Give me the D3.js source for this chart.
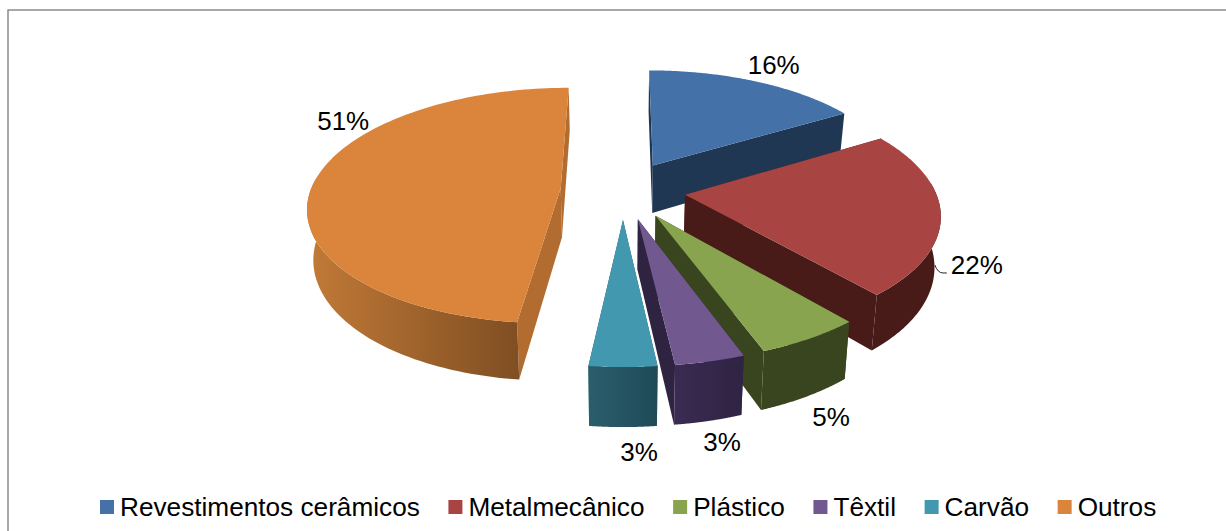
<!DOCTYPE html>
<html>
<head>
<meta charset="utf-8">
<script src="https://d3js.org/d3.v7.min.js"></script>
<style>
    html, body { margin: 0; padding: 0; background: #fff; overflow: hidden; }
    text { font-family: "Liberation Sans", Arial, sans-serif; fill: #000; }
</style>
</head>
<body>
<div id="container"></div>
<script>
// chart data
const categories = ['Revestimentos cerâmicos', 'Metalmecânico', 'Plástico', 'Têxtil', 'Carvão', 'Outros'];
const values = [16, 22, 5, 3, 3, 51];

// slice colours: top face, side face, outer wall left and right
const topColors = ['#4472a8', '#a84543', '#89a44e', '#71588f', '#4198af', '#da843c'];
const cutColors = ['#203753', '#481b19', '#38451f', '#2e2340', '#27525f', '#b26c30'];
const wallLeft = ['#203753', '#481b19', '#38451f', '#3a2b52', '#2a5e6c', '#c27a37'];
const wallRight = ['#203753', '#481b19', '#38451f', '#2f2443', '#1f4a58', '#7f4e22'];

// angle (degrees) each slice edge appears at after the 3d view distorts the pie
const drawnEdges = [0, 59, 139.5, 160, 173.5, 186.5, 360];
// offset of each percent label from the slice's outer midpoint
const labelOffsets = [[18, -16], [36, 51], [21, 79], [12, 81], [16, 85], [29, -61]];
// order slices are painted in, back to front
const paintOrder = [0, 5, 1, 2, 3, 4];

// svg dimensions
const w = 1226;
const h = 531;

// 3d view settings
const vx = 623;         // centre of pie on screen
const radius = 250;     // pie radius in px at centre depth
const horizon = -600;   // y of horizon
const persp = 790;      // distance horizon to centre
const fall = 0.1465;    // how fast things shrink going back
const depth = 49;       // pie thickness
const explode = 0.25;   // slice pull out, in radii
const bottomShrink = 0.98;

const svg = d3.select('#container')
                .append('svg')
                .attr('width', w)
                .attr('height', h)
                .style('display', 'block');

// pie layout, then map to the drawn angles
const pie = d3.pie().sort(null).value(d => d);
const arcs = pie(values);
const edges = [0].concat(arcs.map(d => d.endAngle));
const warp = d3.scaleLinear()
                .domain(edges)
                .range(drawnEdges.map(d => d * Math.PI / 180));

// project a point on the pie (x right, z away from viewer) to the screen
const project = (x, z, low) => {
    const s = 1 / (1 + fall * z);
    const sx = vx + radius * x * s * (low ? bottomShrink : 1);
    const sy = horizon + persp * s + (low ? depth * s : 0);
    return [sx, sy];
};

const line = d3.line();
const slices = arcs.map((d, i) => {
    const a0 = warp(d.startAngle);
    const a1 = warp(d.endAngle);
    const mid = (a0 + a1) / 2;
    const ox = explode * Math.sin(mid);
    const oz = explode * Math.cos(mid);
    const rim = (low, keep) => d3.range(0, 121)
        .map(k => a0 + (a1 - a0) * k / 120)
        .filter(keep)
        .map(a => project(ox + Math.sin(a), oz + Math.cos(a), low));
    const all = () => true;
    const front = a => Math.cos(a) < 0.1;
    return { i, mid, ox, oz,
             apexTop: project(ox, oz, false), apexLow: project(ox, oz, true),
             rimTop: rim(false, all), rimLow: rim(true, all),
             frontTop: rim(false, front), frontLow: rim(true, front) };
});

// gradients for outer walls
const defs = svg.append('defs');
categories.forEach((c, i) => {
    const g = defs.append('linearGradient').attr('id', `wall${i}`);
    g.append('stop').attr('offset', '0%').attr('stop-color', wallLeft[i]);
    g.append('stop').attr('offset', '100%').attr('stop-color', wallRight[i]);
});

// chart frame, only top and left show in the picture
svg.append('path')
    .attr('d', line([[8, h], [8, 10], [w, 10]]))
    .attr('fill', 'none')
    .attr('stroke', '#8c8c8c')
    .attr('stroke-width', 1.5);

// draw slices
paintOrder.forEach(i => {
    const s = slices[i];
    const g = svg.append('g').attr('class', 'slice');
    const last = s.rimTop.length - 1;

    // cut faces
    [[s.rimTop[0], s.rimLow[0]], [s.rimTop[last], s.rimLow[last]]].forEach(e => {
        g.append('path')
            .attr('d', line([s.apexTop, e[0], e[1], s.apexLow]) + 'Z')
            .attr('fill', cutColors[i]);
    });

    // outer wall, only the part turned to the viewer
    if (s.frontTop.length > 1) {
        g.append('path')
            .attr('d', line(s.frontTop.concat(s.frontLow.slice().reverse())) + 'Z')
            .attr('fill', `url(#wall${i})`);
    }

    // top
    g.append('path')
        .attr('d', line([s.apexTop].concat(s.rimTop)) + 'Z')
        .attr('fill', topColors[i]);
});

// percent labels
slices.forEach(s => {
    const p = project(s.ox + Math.sin(s.mid), s.oz + Math.cos(s.mid), false);
    const off = labelOffsets[s.i];
    svg.append('text')
        .attr('x', p[0] + off[0])
        .attr('y', p[1] + off[1] + 9)
        .attr('text-anchor', 'middle')
        .style('font-size', '26px')
        .text(`${values[s.i]}%`);

    // leader for the red slice label
    if (s.i === 1) {
        const lx = p[0] + off[0] - 27;
        const ly = p[1] + off[1] + 8;
        svg.append('path')
            .attr('d', `M${lx - 15},${ly - 8}Q${lx - 12},${ly} ${lx - 7},${ly}H${lx - 3}`)
            .attr('fill', 'none')
            .attr('stroke', '#222')
            .attr('stroke-width', 1);
    }
});

// legend
let legendX = 100;
categories.forEach((c, i) => {
    const g = svg.append('g');
    g.append('rect')
        .attr('x', legendX)
        .attr('y', 500)
        .attr('width', 14)
        .attr('height', 14)
        .attr('fill', topColors[i]);
    const t = g.append('text')
        .attr('x', legendX + 20)
        .attr('y', 516)
        .style('font-size', '26.2px')
        .text(c);
    legendX += 20 + t.node().getComputedTextLength() + 28.6;
});
</script>
</body>
</html>
